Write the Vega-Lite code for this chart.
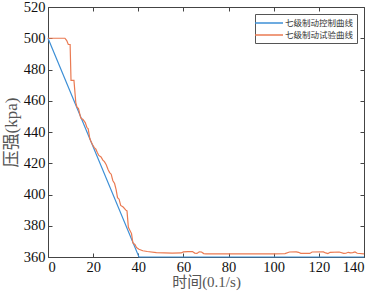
{
  "$schema": "https://vega.github.io/schema/vega-lite/v6.json",
  "width": 316,
  "height": 250,
  "autosize": {"type": "none"},
  "padding": {"left": 48, "top": 7, "right": 11, "bottom": 38},
  "background": "white",
  "config": {
    "view": {"stroke": null},
    "font": "Liberation Serif",
    "axis": {
      "grid": false,
      "domainColor": "#444",
      "tickColor": "#444",
      "tickSize": -4,
      "labelFont": "Liberation Serif",
      "labelFontSize": 14.5,
      "labelColor": "#111",
      "labelPadding": 7,
      "titleFont": "Liberation Serif, Noto Sans CJK SC",
      "titleFontSize": 15,
      "titleFontWeight": "normal",
      "titleColor": "#555"
    }
  },
  "datasets": {
    "ctrl": [
      {"t": 0, "p": 500, "s": "七级制动控制曲线"},
      {"t": 40.3, "p": 360, "s": "七级制动控制曲线"},
      {"t": 140, "p": 360, "s": "七级制动控制曲线"}
    ],
    "test": [
      {"t": 0, "p": 500}, {"t": 7.5, "p": 500}, {"t": 8.3, "p": 498.5}, {"t": 9, "p": 496},
      {"t": 9.8, "p": 496}, {"t": 10.2, "p": 473}, {"t": 11.5, "p": 473}, {"t": 12.3, "p": 459},
      {"t": 12.8, "p": 456}, {"t": 13.5, "p": 455}, {"t": 14.5, "p": 449}, {"t": 15.5, "p": 448},
      {"t": 16.5, "p": 446}, {"t": 17.2, "p": 443}, {"t": 17.8, "p": 442}, {"t": 18.5, "p": 436},
      {"t": 19, "p": 434}, {"t": 19.7, "p": 432}, {"t": 20.5, "p": 430}, {"t": 21.2, "p": 429},
      {"t": 21.8, "p": 427}, {"t": 22.5, "p": 425}, {"t": 23.5, "p": 424}, {"t": 24.3, "p": 422},
      {"t": 25, "p": 421}, {"t": 25.8, "p": 419}, {"t": 26.6, "p": 416}, {"t": 27.3, "p": 414},
      {"t": 28, "p": 413}, {"t": 28.7, "p": 409}, {"t": 29.5, "p": 407}, {"t": 30.2, "p": 403},
      {"t": 30.8, "p": 398}, {"t": 31.5, "p": 397}, {"t": 32.2, "p": 393}, {"t": 33.3, "p": 392},
      {"t": 34.5, "p": 390}, {"t": 35, "p": 389.5}, {"t": 35.6, "p": 379}, {"t": 36.3, "p": 377},
      {"t": 37, "p": 375}, {"t": 37.6, "p": 369}, {"t": 38.5, "p": 368}, {"t": 39.2, "p": 366},
      {"t": 40.3, "p": 365}, {"t": 42, "p": 364}, {"t": 44, "p": 363.5}, {"t": 48, "p": 362.8},
      {"t": 55, "p": 362.5}, {"t": 59, "p": 362.6}, {"t": 60, "p": 363.3}, {"t": 62, "p": 363.5},
      {"t": 64, "p": 363.5}, {"t": 65, "p": 362.5}, {"t": 66, "p": 362.3}, {"t": 67, "p": 363.3},
      {"t": 68, "p": 363.2}, {"t": 69, "p": 362.2}, {"t": 70, "p": 362}, {"t": 80, "p": 362},
      {"t": 90, "p": 362}, {"t": 100, "p": 362}, {"t": 105, "p": 362.2}, {"t": 107, "p": 363.2},
      {"t": 110, "p": 363.3}, {"t": 111, "p": 363}, {"t": 112, "p": 362.3}, {"t": 116, "p": 362.3},
      {"t": 117, "p": 363.2}, {"t": 122, "p": 363.3}, {"t": 123, "p": 362.6}, {"t": 124, "p": 362.2},
      {"t": 125, "p": 363}, {"t": 129, "p": 363.2}, {"t": 131, "p": 362.3}, {"t": 132, "p": 362.4},
      {"t": 133, "p": 363}, {"t": 134, "p": 362.6}, {"t": 135, "p": 362.8}, {"t": 136, "p": 363.2},
      {"t": 137, "p": 362.4}, {"t": 140, "p": 362}
    ]
  },
  "resolve": {"axis": {"x": "independent", "y": "independent"}},
  "layer": [
    {
      "data": {"name": "ctrl"},
      "mark": {"type": "line", "strokeWidth": 1.2},
      "encoding": {
        "x": {"field": "t", "type": "quantitative", "scale": {"domain": [0, 140], "nice": false},
          "axis": {"orient": "bottom", "values": [0, 20, 40, 60, 80, 100, 120, 140], "title": "时间(0.1/s)", "titlePadding": 1}},
        "y": {"field": "p", "type": "quantitative", "scale": {"domain": [360, 520], "nice": false, "zero": false},
          "axis": {"orient": "left", "values": [360, 380, 400, 420, 440, 460, 480, 500, 520], "title": "压强(kpa)", "titlePadding": 3, "titleFontSize": 17}},
        "color": {"field": "s", "type": "nominal",
          "scale": {"domain": ["七级制动控制曲线", "七级制动试验曲线"], "range": ["#3d8fd6", "#ea7a52"]},
          "legend": {"orient": "top-right", "title": null, "offset": 7, "strokeColor": "#555", "fillColor": "white",
            "padding": 3, "labelFont": "Noto Sans CJK SC", "labelFontSize": 8.5, "labelColor": "#333",
            "symbolType": "M-2.8,0H2.8", "symbolSize": 100, "symbolStrokeWidth": 1.5, "symbolOffset": 5,
            "rowPadding": 1, "labelOffset": 10}}
      }
    },
    {
      "data": {"name": "test"},
      "mark": {"type": "line", "strokeWidth": 1.2},
      "encoding": {
        "x": {"field": "t", "type": "quantitative", "scale": {"domain": [0, 140], "nice": false},
          "axis": {"orient": "top", "values": [0, 20, 40, 60, 80, 100, 120, 140], "labels": false, "title": null}},
        "y": {"field": "p", "type": "quantitative", "scale": {"domain": [360, 520], "nice": false, "zero": false},
          "axis": {"orient": "right", "values": [360, 380, 400, 420, 440, 460, 480, 500, 520], "labels": false, "title": null}},
        "color": {"datum": "七级制动试验曲线", "type": "nominal"}
      }
    }
  ]
}
